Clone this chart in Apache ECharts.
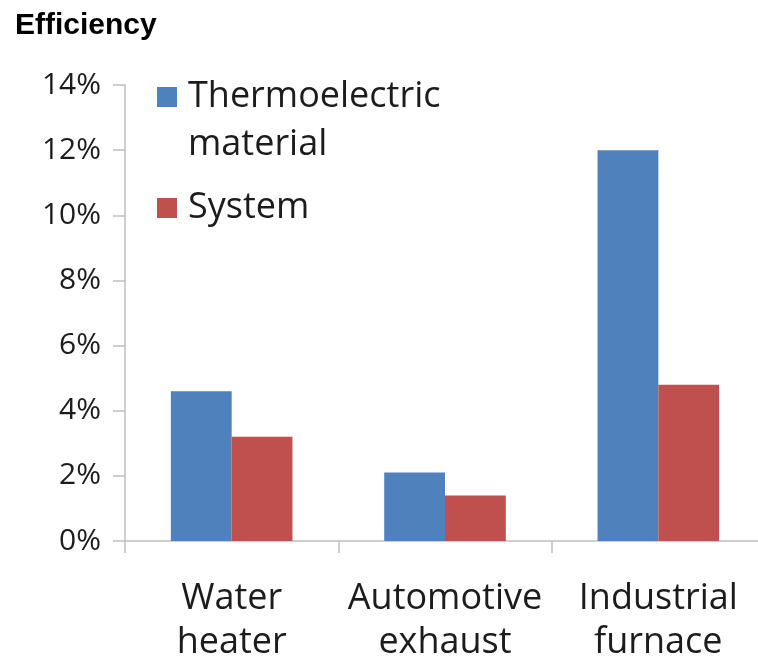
<!DOCTYPE html>
<html>
<head>
<meta charset="utf-8">
<title>Efficiency</title>
<script src="https://cdn.jsdelivr.net/npm/echarts@6/dist/echarts.min.js"></script>
<style>
  html, body { margin: 0; padding: 0; background: #fff; }
  #chart { width: 758px; height: 658px; }
</style>
</head>
<body>
<div id="chart"></div>
<script>
// Conversion efficiency of thermoelectric generators by application
const categories = ['Water\nheater', 'Automotive\nexhaust', 'Industrial\nfurnace'];
const materialEff = [4.6, 2.1, 12.0];   // % , thermoelectric material
const systemEff = [3.2, 1.4, 4.8];      // % , whole system
const yTicks = [0, 2, 4, 6, 8, 10, 12, 14];

const axisGray = '#BFBFBF';
const textDark = '#1c1c1c';

const chart = echarts.init(document.getElementById('chart'), null, { renderer: 'canvas' });

chart.setOption({
  animation: false,
  backgroundColor: '#fff',
  title: {
    text: 'Efficiency',
    left: 15,
    top: 11,
    padding: 0,
    textStyle: {
      fontFamily: 'Liberation Sans, Arial, sans-serif',
      fontWeight: 'bold',
      fontSize: 30,
      color: '#000'
    }
  },
  legend: [
    {
      data: ['Thermoelectric material'],
      orient: 'vertical',
      left: 157,
      top: 25,
      padding: 0,
      icon: 'rect',
      itemWidth: 20,
      itemHeight: 20,
      // leading blank line keeps the first text line level with the swatch
      formatter: () => '\nThermoelectric\nmaterial',
      textStyle: {
        fontFamily: 'Open Sans',
        fontSize: 36,
        lineHeight: 48,
        color: textDark,
        padding: [0, 0, 0, 6]
      }
    },
    {
      data: ['System'],
      orient: 'vertical',
      left: 157,
      top: 184,
      padding: 0,
      icon: 'rect',
      itemWidth: 20,
      itemHeight: 20,
      textStyle: {
        fontFamily: 'Open Sans',
        fontSize: 36,
        lineHeight: 48,
        color: textDark,
        padding: [0, 0, 0, 6]
      }
    }
  ],
  grid: {
    left: 125,
    right: -7,
    top: 85,
    bottom: 117,
    containLabel: false,
    outerBoundsMode: 'none'
  },
  xAxis: {
    type: 'category',
    data: categories,
    boundaryGap: true,
    axisLine: { lineStyle: { color: axisGray, width: 1.5 } },
    axisTick: { show: true, length: 12, lineStyle: { color: axisGray, width: 1.5 } },
    axisLabel: {
      margin: 36,
      fontFamily: 'Open Sans',
      fontSize: 36,
      lineHeight: 44,
      color: textDark,
      interval: 0
    }
  },
  yAxis: {
    type: 'value',
    min: yTicks[0],
    max: yTicks[yTicks.length - 1],
    interval: 2,
    splitLine: { show: false },
    axisLine: { show: true, lineStyle: { color: axisGray, width: 1.5 } },
    axisTick: { show: true, length: 12, lineStyle: { color: axisGray, width: 1.5 } },
    axisLabel: {
      margin: 24,
      fontFamily: 'Open Sans',
      fontSize: 30,
      color: textDark,
      formatter: '{value}%'
    }
  },
  series: [
    {
      name: 'Thermoelectric material',
      type: 'bar',
      data: materialEff,
      barGap: '0%',
      barCategoryGap: '43%',
      itemStyle: { color: '#4F81BD' }
    },
    {
      name: 'System',
      type: 'bar',
      data: systemEff,
      itemStyle: { color: '#C0504D' }
    }
  ]
});
</script>
</body>
</html>
